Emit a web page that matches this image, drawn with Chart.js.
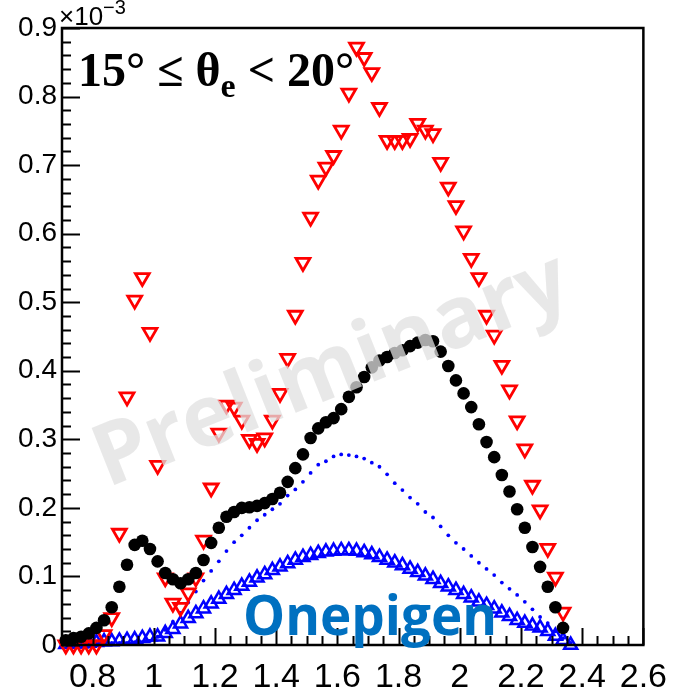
<!DOCTYPE html>
<html>
<head>
<meta charset="utf-8">
<script src="https://cdn.jsdelivr.net/npm/chart.js@4/dist/chart.umd.min.js"></script>
<style>
  html, body { margin: 0; padding: 0; background: #fff; overflow: hidden; }
  canvas { display: block; }
</style>
</head>
<body>
<canvas id="c" width="679" height="691"></canvas>
<script>
// Bin centres (W / GeV), 0.025 wide bins
const binCenters = [
  0.7125,0.7375,0.7625,0.7875,0.8125,0.8375,0.8625,0.8875,0.9125,0.9375,
  0.9625,0.9875,1.0125,1.0375,1.0625,1.0875,1.1125,1.1375,1.1625,1.1875,
  1.2125,1.2375,1.2625,1.2875,1.3125,1.3375,1.3625,1.3875,1.4125,1.4375,
  1.4625,1.4875,1.5125,1.5375,1.5625,1.5875,1.6125,1.6375,1.6625,1.6875,
  1.7125,1.7375,1.7625,1.7875,1.8125,1.8375,1.8625,1.8875,1.9125,1.9375,
  1.9625,1.9875,2.0125,2.0375,2.0625,2.0875,2.1125,2.1375,2.1625,2.1875,
  2.2125,2.2375,2.2625,2.2875,2.3125,2.3375,2.3625
];

// Yields in units of 1e-3
const measured = [
  0.007,0.010,0.012,0.017,0.025,0.036,0.055,0.085,0.117,0.146,
  0.152,0.140,0.122,0.105,0.096,0.090,0.096,0.105,0.124,0.149,
  0.171,0.187,0.194,0.200,0.201,0.203,0.207,0.213,0.222,0.238,
  0.258,0.278,0.302,0.316,0.325,0.331,0.344,0.362,0.376,0.391,
  0.405,0.415,0.420,0.426,0.430,0.436,0.441,0.445,0.443,0.428,
  0.407,0.386,0.367,0.347,0.322,0.296,0.274,0.248,0.224,0.198,
  0.171,0.143,0.114,0.085,0.055,0.025,null
];

const modelRed = [
  0.000,0.000,0.000,0.000,0.000,0.015,0.040,0.163,0.362,0.503,
  0.536,0.456,0.262,0.098,0.061,0.055,0.076,0.098,0.153,0.229,
  0.309,0.350,0.347,0.328,0.300,0.294,0.302,0.328,0.367,0.418,
  0.481,0.558,0.624,0.678,0.697,0.714,0.751,0.805,0.872,0.857,
  0.835,0.784,0.736,0.736,0.736,0.739,0.761,0.751,0.746,0.704,
  0.668,0.641,0.604,0.564,0.536,0.481,0.452,0.408,0.372,0.327,
  0.286,0.233,0.197,0.141,0.099,0.048,null
];

const modelDotted = [
  0.001,0.001,0.001,0.002,0.002,0.002,0.003,0.003,0.003,0.004,
  0.004,0.006,0.012,0.022,0.034,0.047,0.062,0.078,0.094,0.108,
  0.122,0.137,0.150,0.160,0.171,0.182,0.190,0.198,0.206,0.218,
  0.227,0.238,0.251,0.263,0.268,0.275,0.278,0.277,0.275,0.272,
  0.266,0.260,0.249,0.236,0.226,0.215,0.206,0.194,0.186,0.173,
  0.160,0.149,0.140,0.130,0.120,0.111,0.102,0.091,0.082,0.073,
  0.063,0.052,0.041,0.032,0.020,0.010,0.003
];

const onepigen = [
  0.001,0.002,0.002,0.003,0.004,0.005,0.005,0.006,0.007,0.008,
  0.010,0.012,0.012,0.017,0.023,0.031,0.039,0.046,0.053,0.060,
  0.067,0.074,0.080,0.086,0.092,0.098,0.103,0.109,0.114,0.119,
  0.124,0.128,0.131,0.134,0.136,0.137,0.138,0.138,0.137,0.135,
  0.132,0.128,0.124,0.120,0.116,0.111,0.106,0.101,0.096,0.090,
  0.085,0.080,0.074,0.069,0.063,0.058,0.053,0.047,0.042,0.036,
  0.032,0.028,0.025,0.020,0.013,0.007,0.000
];

const xTickValues = [0.8, 1, 1.2, 1.4, 1.6, 1.8, 2, 2.2, 2.4, 2.6];
const yTickValues = [0, 0.1, 0.2, 0.3, 0.4, 0.5, 0.6, 0.7, 0.8, 0.9];

const toPoints = (vals) => binCenters.map((x, i) => ({ x, y: vals[i] }));

// Frame with inward ticks, overlay texts and watermark
const decorations = {
  id: 'decorations',
  afterDraw(chart) {
    const { ctx, chartArea: a, scales: { x, y } } = chart;
    ctx.save();
    ctx.strokeStyle = '#000';
    ctx.lineWidth = 2;
    ctx.beginPath();
    for (let i = 0; i <= 45; i++) {
      const py = Math.round(y.getPixelForValue(i * 0.02)) + 0.5;
      const len = (i % 5 === 0) ? 18 : 9;
      ctx.moveTo(a.left, py); ctx.lineTo(a.left + len, py);
    }
    for (let i = 14; i <= 52; i++) {
      const px = Math.round(x.getPixelForValue(i * 0.05)) + 0.5;
      const len = (i % 4 === 0) ? 17 : 9;
      ctx.moveTo(px, a.bottom); ctx.lineTo(px, a.bottom - len);
    }
    ctx.stroke();
    ctx.lineWidth = 2.5;
    ctx.strokeRect(a.left, a.top, a.right - a.left, a.bottom - a.top);

    // exponent of the y axis
    ctx.fillStyle = '#000';
    ctx.textBaseline = 'alphabetic';
    ctx.textAlign = 'left';
    ctx.font = '26px "Liberation Sans"';
    ctx.fillText('\u00d710', 59, 25);
    const w10 = ctx.measureText('\u00d710').width;
    ctx.font = '20px "Liberation Sans"';
    ctx.fillText('\u22123', 59 + w10, 14);

    // angular range label
    ctx.font = 'bold 48px "Liberation Serif"';
    let tx = 78;
    const base = 86;
    const part1 = '15\u00b0 \u2264 \u03b8';
    ctx.fillText(part1, tx, base);
    tx += ctx.measureText(part1).width;
    ctx.font = 'bold 34px "Liberation Serif"';
    ctx.fillText('e', tx, base + 11);
    tx += ctx.measureText('e').width;
    ctx.font = 'bold 48px "Liberation Serif"';
    ctx.fillText(' < 20\u00b0', tx, base);

    // generator label
    ctx.font = 'bold 56px "Open Sans"';
    ctx.fillStyle = '#0070C0';
    const gw = ctx.measureText('Onepigen').width;
    ctx.save();
    ctx.translate(243, 635);
    ctx.scale(254 / gw, 1);
    ctx.fillText('Onepigen', 0, 0);
    ctx.restore();

    // watermark
    ctx.save();
    ctx.translate(332, 372);
    ctx.rotate(-21.7 * Math.PI / 180);
    ctx.font = 'bold 86px "Open Sans"';
    ctx.textAlign = 'center';
    ctx.textBaseline = 'middle';
    ctx.fillStyle = 'rgba(224,224,224,0.75)';
    ctx.fillText('Preliminary', 0, 0);
    ctx.restore();

    ctx.restore();
  }
};

new Chart(document.getElementById('c'), {
  type: 'scatter',
  data: {
    datasets: [
      {
        label: 'data',
        data: toPoints(measured),
        pointStyle: 'circle',
        pointRadius: 6.3,
        backgroundColor: '#000',
        borderColor: '#000',
        borderWidth: 0,
        clip: false
      },
      {
        label: 'model',
        data: toPoints(modelRed),
        pointStyle: 'triangle',
        rotation: 180,
        pointRadius: 8,
        backgroundColor: 'rgba(0,0,0,0)',
        borderColor: '#ff0000',
        borderWidth: 2.8,
        clip: false
      },
      {
        label: 'model dotted',
        data: toPoints(modelDotted),
        pointStyle: 'circle',
        pointRadius: 1.9,
        backgroundColor: '#0000ff',
        borderColor: '#0000ff',
        borderWidth: 0,
        clip: false
      },
      {
        label: 'Onepigen',
        data: toPoints(onepigen),
        pointStyle: 'triangle',
        pointRadius: 7.5,
        backgroundColor: 'rgba(0,0,0,0)',
        borderColor: '#0000ff',
        borderWidth: 2.5,
        clip: false
      }
    ]
  },
  options: {
    responsive: false,
    devicePixelRatio: 1,
    animation: false,
    events: [],
    layout: { padding: { top: 28, right: 27, left: 0, bottom: 0 } },
    plugins: { legend: { display: false }, tooltip: { enabled: false } },
    scales: {
      x: {
        type: 'linear',
        min: 0.7,
        max: 2.6,
        grid: { display: false, drawTicks: false },
        border: { display: false },
        afterFit: (s) => { s.height = 46; },
        afterBuildTicks: (s) => { s.ticks = xTickValues.map(v => ({ value: v })); },
        ticks: {
          autoSkip: false,
          maxRotation: 0,
          padding: 12,
          color: '#000',
          font: { family: '"Liberation Sans"', size: 34 },
          callback: (v) => String(v)
        }
      },
      y: {
        type: 'linear',
        min: 0,
        max: 0.9,
        grid: { display: false, drawTicks: false },
        border: { display: false },
        afterFit: (s) => { s.width = 62; },
        afterBuildTicks: (s) => { s.ticks = yTickValues.map(v => ({ value: v })); },
        ticks: {
          autoSkip: false,
          padding: 5,
          color: '#000',
          font: { family: '"Liberation Sans"', size: 28 },
          callback: (v) => String(v)
        }
      }
    }
  },
  plugins: [decorations]
});
</script>
</body>
</html>
